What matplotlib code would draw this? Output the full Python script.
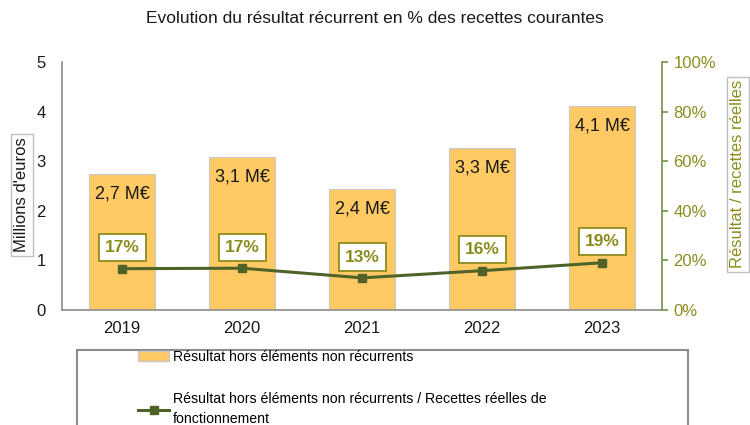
import matplotlib.pyplot as plt
import matplotlib.patches as mpatches
from matplotlib.lines import Line2D
from matplotlib.ticker import FuncFormatter

plt.rcParams["font.family"] = ["Liberation Sans", "DejaVu Sans"]

years = ["2019", "2020", "2021", "2022", "2023"]
resultat_meur = [2.75, 3.08, 2.44, 3.27, 4.11]
resultat_labels = ["2,7 M€", "3,1 M€", "2,4 M€", "3,3 M€", "4,1 M€"]
ratio_pct = [16.6, 16.8, 12.9, 15.8, 19.0]
ratio_labels = ["17%", "17%", "13%", "16%", "19%"]

BAR = "#FFC964"
LINE = "#4F6228"
OLIVE = "#8C8C1E"
AXIS_GREEN = "#77904A"

fig = plt.figure(figsize=(7.5, 4.25), dpi=100)
ax = fig.add_axes([0.083, 0.271, 0.8, 0.583])
ax2 = ax.twinx()

x = list(range(len(years)))
ax.bar(x, resultat_meur, width=0.55, color=BAR, edgecolor="#C8C8C8",
       linewidth=0.8, zorder=2)
for xi, v, lab in zip(x, resultat_meur, resultat_labels):
    ax.annotate(lab, (xi, v), textcoords="offset points", xytext=(0, -14.5),
                ha="center", va="center", fontsize=13, color="#1a1a1a")

ax.set_xlim(-0.5, len(years) - 0.5)
ax.set_ylim(0, 5)
ax.set_yticks(range(6))
ax.set_xticks(x)
ax.set_xticklabels(years)
ax.tick_params(axis="both", length=0, labelsize=12, colors="#1a1a1a")
ax.tick_params(axis="y", pad=12)
ax.tick_params(axis="x", pad=8)
for s in ["top", "right"]:
    ax.spines[s].set_visible(False)
for s in ["left", "bottom"]:
    ax.spines[s].set_color("#8C8C8C")
    ax.spines[s].set_linewidth(1.2)

ax2.plot(x, ratio_pct, color=LINE, linewidth=2.2, marker="s", markersize=6,
         zorder=5)
for xi, v, lab in zip(x, ratio_pct, ratio_labels):
    ax2.annotate(lab, (xi, v), textcoords="offset points", xytext=(0, 15),
                 ha="center", va="center", fontsize=12.5, fontweight="bold",
                 color=OLIVE,
                 bbox=dict(boxstyle="square,pad=0.35", fc="white", ec=OLIVE,
                           lw=1.3))
ax2.set_ylim(0, 100)
ax2.set_yticks(range(0, 101, 20))
ax2.yaxis.set_major_formatter(FuncFormatter(lambda v, _: f"{v:.0f}%"))
ax2.tick_params(axis="y", colors=AXIS_GREEN, labelcolor=OLIVE, length=4,
                width=1.2, labelsize=12, pad=4)
for s in ["top", "left", "bottom"]:
    ax2.spines[s].set_visible(False)
ax2.spines["right"].set_color(AXIS_GREEN)
ax2.spines["right"].set_linewidth(1.2)

fig.text(0.5, 0.957, "Evolution du résultat récurrent en % des recettes courantes",
         ha="center", va="center", fontsize=12.5, color="#1a1a1a")
fig.text(0.029, 0.541, "Millions d'euros", rotation=90, ha="center", va="center",
         fontsize=12, color="#1a1a1a",
         bbox=dict(boxstyle="square,pad=0.2", fc="white", ec="#BFBFBF", lw=1))
fig.text(0.984, 0.59, "Résultat / recettes réelles", rotation=90, ha="center",
         va="center", fontsize=12, color=OLIVE,
         bbox=dict(boxstyle="square,pad=0.2", fc="white", ec="#BFBFBF", lw=1))

# legend frame (runs off the bottom edge)
fig.patches.append(mpatches.Rectangle((77 / 750, -0.1), (688 - 77) / 750,
                                      0.1 + (425 - 350) / 425,
                                      transform=fig.transFigure, fill=False,
                                      ec="#8C8C8C", lw=1.5))
handles = [
    mpatches.Patch(fc=BAR, ec="#C8C8C8"),
    Line2D([], [], color=LINE, lw=2.2, marker="s", markersize=6),
]
labels = [
    "Résultat hors éléments non récurrents",
    "Résultat hors éléments non récurrents / Recettes réelles de\nfonctionnement",
]
leg = fig.legend(handles, labels, loc="upper left",
                 bbox_to_anchor=(0.184, 0.176), bbox_transform=fig.transFigure,
                 frameon=False, fontsize=10.2, labelspacing=1.95,
                 handlelength=2.2, handletextpad=0.25, borderaxespad=0,
                 borderpad=0)
for t in leg.get_texts():
    t.set_linespacing(1.6)

fig.savefig("out.png", dpi=100)
